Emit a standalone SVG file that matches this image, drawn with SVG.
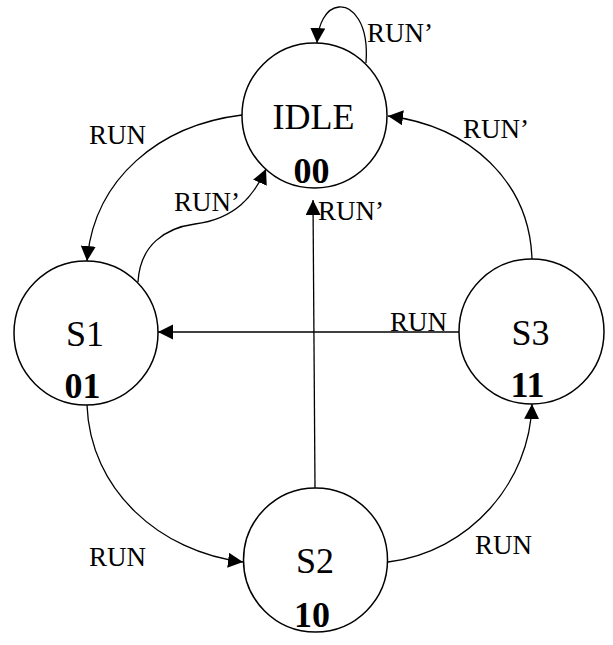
<svg xmlns="http://www.w3.org/2000/svg" width="613" height="645" viewBox="0 0 613 645">
<style>
.st{fill:#fff;stroke:#000;stroke-width:1.5}
.nm{font-family:"Liberation Serif","Times New Roman",serif;font-size:36px;fill:#000;text-anchor:middle}
.cd{font-family:"Liberation Serif","Times New Roman",serif;font-size:36px;font-weight:bold;fill:#000;text-anchor:middle}
.lb{font-family:"Liberation Serif","Times New Roman",serif;font-size:27px;fill:#000}
.cn{fill:none;stroke:#000;stroke-width:1.3;marker-end:url(#ah)}
</style>
<defs>
<marker id="ah" markerUnits="userSpaceOnUse" markerWidth="16" markerHeight="16" refX="15" refY="7.5" orient="auto">
<path d="M0,0 L15,7.5 L0,15 z" fill="#000"/>
</marker>
</defs>
<rect width="613" height="645" fill="#fff"/>
<g id="connectors">
<path class="cn" d="M366,63 C369,22 352,6 339,7 C326,8 318,24 317,43"/>
<path class="cn" d="M242,115 C160,125 94,178 87,261"/>
<path class="cn" d="M138,282 C140,245 165,228 195,224 C235,219 254,196 266,169"/>
<path class="cn" d="M532,260 C530,182 470,126 388,116"/>
<path class="cn" d="M459,332 L158,332"/>
<path class="cn" d="M315,488 L313,200"/>
<path class="cn" d="M87,405 C90,490 160,552 243,562"/>
<path class="cn" d="M388,562 C470,552 530,482 532,404"/>
<text class="lb" x="367" y="42">RUN’</text>
<text class="lb" x="89" y="144">RUN</text>
<text class="lb" x="174" y="211">RUN’</text>
<text class="lb" x="463" y="138">RUN’</text>
<text class="lb" x="318" y="220">RUN’</text>
<text class="lb" x="390" y="331">RUN</text>
<text class="lb" x="89" y="566">RUN</text>
<text class="lb" x="475" y="554">RUN</text>
</g>
<g id="IDLE">
<circle class="st" cx="314.5" cy="115.5" r="72.5"/>
<text class="nm" x="313.5" y="129">IDLE</text>
<text class="cd" x="311.5" y="183">00</text>
</g>
<g id="S1">
<circle class="st" cx="86" cy="333" r="72"/>
<text class="nm" x="85" y="346">S1</text>
<text class="cd" x="82.5" y="398">01</text>
</g>
<g id="S3">
<circle class="st" cx="531.5" cy="331.5" r="72.5"/>
<text class="nm" x="530.5" y="345">S3</text>
<text class="cd" x="527.5" y="397">11</text>
</g>
<g id="S2">
<circle class="st" cx="315.5" cy="560" r="72"/>
<text class="nm" x="315" y="573">S2</text>
<text class="cd" x="312" y="627">10</text>
</g>
</svg>
